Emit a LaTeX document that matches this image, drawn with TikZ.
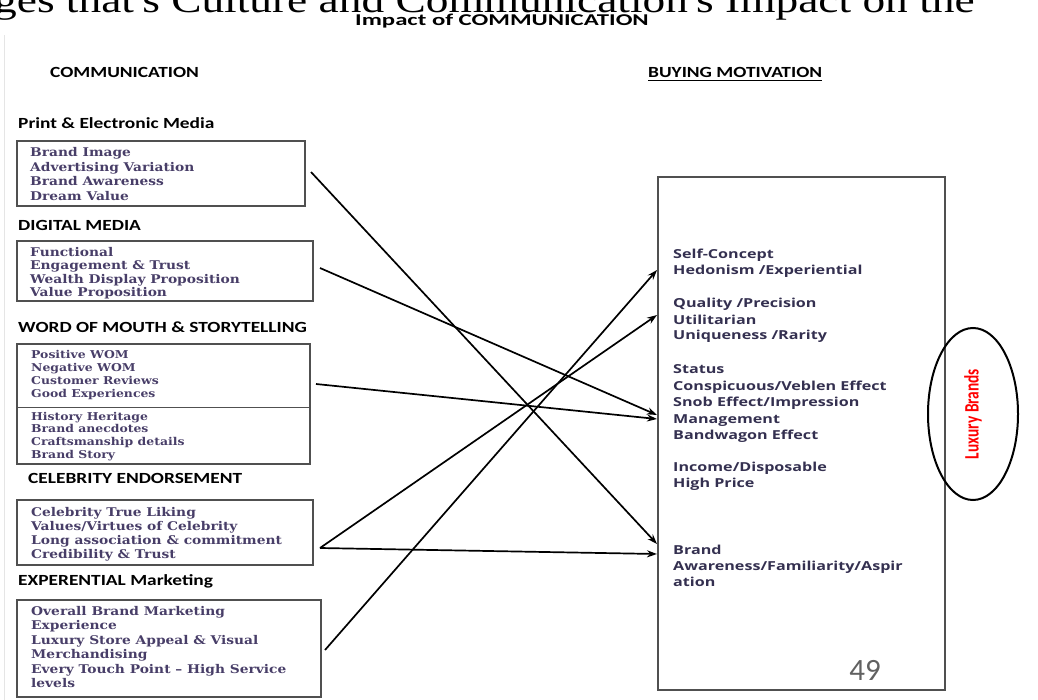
\documentclass[tikz,border=0pt]{standalone}
\usepackage{fontspec}
\usetikzlibrary{arrows.meta,shapes.geometric}

% fonts
\newfontfamily\hdfont[FakeStretch=1.25]{Carlito}
\newfontfamily\ttlfont[FakeStretch=1.5]{Carlito}
\newfontfamily\numfont{Carlito}
\newfontfamily\bxfont[FakeStretch=1.15]{DejaVu Serif}
\newfontfamily\mtfont[FakeStretch=1.3]{Open Sans}
\newfontfamily\capfont[FakeStretch=1.25]{Liberation Serif}
\newfontfamily\lbfont[FakeStretch=0.75]{Carlito}

\definecolor{boxtext}{RGB}{72,62,104}
\definecolor{mottext}{RGB}{52,48,80}
\definecolor{frame}{RGB}{80,80,80}

\begin{document}
\begin{tikzpicture}[x=1pt,y=-1pt,
  heading/.style={anchor=base west,inner sep=0pt,font=\hdfont\bfseries\fontsize{15.5}{18}\selectfont},
  title/.style={anchor=base,inner sep=0pt,font=\ttlfont\bfseries\fontsize{16.5}{20}\selectfont},
  itembox/.style={draw=frame,line width=1.3pt,rectangle,inner sep=0pt},
  item/.style={anchor=base west,inner sep=0pt,text=boxtext,font=\bxfont\bfseries\fontsize{12}{14}\selectfont},
  smallitem/.style={item,font=\bxfont\bfseries\fontsize{10.8}{12}\selectfont},
  motive/.style={anchor=base west,inner sep=0pt,text=mottext,font=\mtfont\bfseries\fontsize{12.4}{14}\selectfont},
  conn/.style={line width=1.7pt,-{Stealth[length=10pt,width=7pt]}},
]
\useasboundingbox (0,0) rectangle (1038,700);
\clip (0,0) rectangle (1038,700);

% cut-off caption line along the top edge
\node[anchor=base west,inner sep=0pt,font=\capfont\fontsize{36.3}{40}\selectfont] (caption) at (-6,12.5)
  {ges that's Culture and Communication's Impact on the};
\draw[black!10,line width=0.8pt] (4,35) -- (4,700);

% titles
\node[title] (maintitle) at (502,26) {Impact of COMMUNICATION};
\node[heading] (commhead) at (50,78) {COMMUNICATION};
\node[heading] (buyhead) at (648,78) {BUYING MOTIVATION};
\draw[line width=1pt] ([yshift=-2.2pt]buyhead.base west) -- ([yshift=-2.2pt]buyhead.base east);

% communication channels
\node[heading] (h1) at (18,129) {Print \& Electronic Media};
\node[itembox,minimum width=288pt,minimum height=65pt] (b1) at (161,173.5) {};
\foreach \t [count=\i] in {Brand Image,Advertising Variation,Brand Awareness,Dream Value}
  \node[item] (p\i) at (30,{156.5+14.7*(\i-1)}) {\t};

\node[heading] (h2) at (18,231) {DIGITAL MEDIA};
\node[itembox,minimum width=296pt,minimum height=60pt] (b2) at (165,271) {};
\foreach \t [count=\i] in {Functional,Engagement \& Trust,Wealth Display Proposition,Value Proposition}
  \node[item] (d\i) at (30,{256.5+13.4*(\i-1)}) {\t};

\node[heading] (h3) at (18,332) {WORD OF MOUTH \& STORYTELLING};
\node[itembox,minimum width=293pt,minimum height=120pt] (b3) at (163.5,404) {};
\draw[frame,line width=1pt] (b3.west |- 0,407) -- (b3.east |- 0,407);
\foreach \t [count=\i] in {Positive WOM,Negative WOM,Customer Reviews,Good Experiences}
  \node[smallitem] (w\i) at (31,{359+12.7*(\i-1)}) {\t};
\foreach \t [count=\i] in {History Heritage,Brand anecdotes,Craftsmanship details,Brand Story}
  \node[smallitem] (s\i) at (31,{420+12.7*(\i-1)}) {\t};

\node[heading] (h4) at (28,483) {CELEBRITY ENDORSEMENT};
\node[itembox,minimum width=296pt,minimum height=65pt] (b4) at (165,532.5) {};
\foreach \t [count=\i] in {Celebrity True Liking,{Values/Virtues of Celebrity},Long association \& commitment,Credibility \& Trust}
  \node[item] (c\i) at (31,{516+14*(\i-1)}) {\t};

\node[heading] (h5) at (18,585) {EXPERENTIAL Marketing};
\node[itembox,minimum width=304pt,minimum height=97pt] (b5) at (169,648.5) {};
\foreach \t [count=\i] in {Overall Brand Marketing,Experience,Luxury Store Appeal \& Visual,Merchandising,Every Touch Point – High Service,levels}
  \node[item] (e\i) at (31,{615+14.5*(\i-1)}) {\t};

% buying motivation panel
\node[itembox,minimum width=287pt,minimum height=513pt] (m) at (801.5,433.5) {};
\foreach \y/\t [count=\i] in {259/{Self-Concept},275/{Hedonism /Experiential},308/{Quality /Precision},324/{Utilitarian},
    340/{Uniqueness /Rarity},373/{Status},390/{Conspicuous/Veblen Effect},406/{Snob Effect/Impression},
    423/{Management},439/{Bandwagon Effect},471/{Income/Disposable},487/{High Price},554/{Brand},
    570/{Awareness/Familiarity/Aspir},586/{ation}}
  \node[motive] (mt\i) at (673,\y) {\t};
\node[anchor=base,inner sep=0pt,text=black!62,font=\numfont\fontsize{31}{34}\selectfont] (pagenum) at (865,680) {49};

% luxury brands ellipse
\node[draw,ellipse,line width=2pt,minimum width=90pt,minimum height=172pt,inner sep=0pt] (lux) at (973,414) {};
\node[rotate=90,inner sep=0pt,text=red,font=\lbfont\bfseries\fontsize{20.5}{22}\selectfont] (luxlabel) at (lux.center) {Luxury Brands};

% connector end points
\coordinate (s1) at (311,172);
\coordinate (s2) at (320,268);
\coordinate (s3) at (316,384);
\coordinate (s4) at (320,548);
\coordinate (s5) at (325,650);
\coordinate (tSelf) at (657,270);
\coordinate (tQual) at (657,315);
\coordinate (tMgmtA) at (657,415);
\coordinate (tMgmtB) at (657,419);
\coordinate (tBrandA) at (657,544);
\coordinate (tBrandB) at (657,554);

\draw[conn] (s1) -- (tBrandA);
\draw[conn] (s2) -- (tMgmtA);
\draw[conn] (s3) -- (tMgmtB);
\draw[conn] (s4) -- (tQual);
\draw[conn] (s4) -- (tBrandB);
\draw[conn] (s5) -- (tSelf);
\end{tikzpicture}
\end{document}
